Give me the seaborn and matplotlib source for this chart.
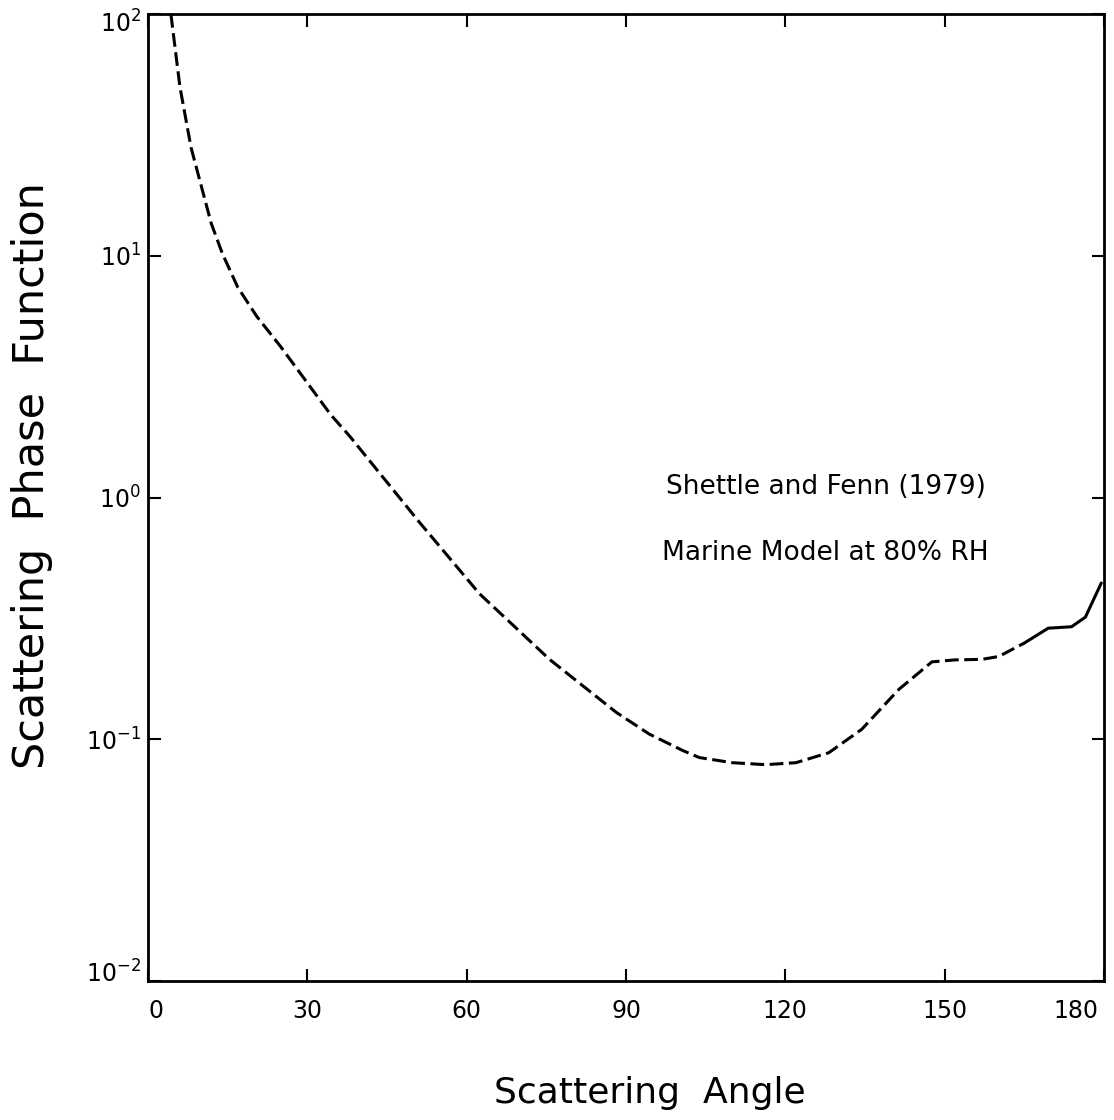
import matplotlib
matplotlib.use("Agg")
import pandas as pd
import seaborn as sns
import matplotlib.pyplot as plt
import matplotlib.transforms as mtransforms
from matplotlib.ticker import FixedLocator, NullLocator

# curve (angle in degrees, phase function value)
angle = [4.3, 6.0, 8.1, 11.9, 14.0, 16.9, 20.5, 25.0, 34.4, 38.0, 51.1, 62.4,
         75.6, 88.2, 94.4, 100.6, 103.8, 110.0, 116.3, 122.0, 128.2, 134.4,
         141.4, 147.6, 152.0, 157.0, 160.2, 165.0, 169.5, 173.9, 176.5, 179.5]
phase = [100.0, 50.0, 28.0, 13.6, 10.2, 7.4, 5.6, 4.2, 2.2, 1.79, 0.79, 0.40,
         0.214, 0.129, 0.105, 0.090, 0.084, 0.080, 0.0785, 0.080, 0.088, 0.110,
         0.161, 0.209, 0.213, 0.214, 0.220, 0.250, 0.288, 0.292, 0.32, 0.443]
solid_from = 165.0

xticks = [0, 30, 60, 90, 120, 150, 180]
yticks = [1e-2, 1e-1, 1e0, 1e1, 1e2]

note_lines = ["Shettle and Fenn (1979)", "Marine Model at 80% RH"]

df = pd.DataFrame({"angle": angle, "phase": phase})
dashed = df[df["angle"] <= solid_from]
solid = df[df["angle"] >= solid_from]

sns.set_style("ticks")
plt.rcParams["text.color"] = "black"
plt.rcParams["xtick.color"] = "black"
plt.rcParams["ytick.color"] = "black"
plt.rcParams["axes.labelcolor"] = "black"

fig = plt.figure(figsize=(11.14, 11.20), dpi=100)
ax = fig.add_axes([0.1329, 0.1241, 0.8581, 0.8634])

sns.lineplot(data=dashed, x="angle", y="phase", ax=ax, color="black",
             linewidth=2.2, linestyle=(0, (4.5, 1.8)))
sns.lineplot(data=solid, x="angle", y="phase", ax=ax, color="black",
             linewidth=2.2)

ax.set_yscale("log")
ax.set_xlim(0, 180)
ax.set_ylim(1e-2, 1e2)
ax.xaxis.set_major_locator(FixedLocator(xticks))
ax.yaxis.set_major_locator(FixedLocator(yticks))
ax.yaxis.set_minor_locator(NullLocator())
ax.tick_params(direction="in", length=9, width=1.5, top=True, right=True,
               labelsize=17)
ax.tick_params(axis="x", pad=13)
ax.tick_params(axis="y", pad=5)

for s in ax.spines.values():
    s.set_linewidth(2)
    s.set_color("black")

ax.set_xlabel("Scattering  Angle", fontsize=26, labelpad=38, x=0.525)
ax.set_ylabel("Scattering  Phase  Function", fontsize=31, labelpad=24, y=0.523)

# edge tick labels nudged inside, as on the original plot
fig.canvas.draw()
xl = ax.get_xticklabels()
xl[0].set_ha("left")
xl[-1].set_ha("right")
xl[-1].set_transform(xl[-1].get_transform() +
                     mtransforms.ScaledTranslation(-0.06, 0, fig.dpi_scale_trans))
yl = ax.get_yticklabels()
yl[0].set_transform(yl[0].get_transform() +
                    mtransforms.ScaledTranslation(0, 0.1, fig.dpi_scale_trans))
yl[-1].set_transform(yl[-1].get_transform() +
                     mtransforms.ScaledTranslation(0, -0.08, fig.dpi_scale_trans))

ax.text(0.709, 0.511, note_lines[0], transform=ax.transAxes, fontsize=19,
        ha="center", va="center")
ax.text(0.709, 0.443, note_lines[1], transform=ax.transAxes, fontsize=19,
        ha="center", va="center")

fig.savefig("out.png", dpi=100)
